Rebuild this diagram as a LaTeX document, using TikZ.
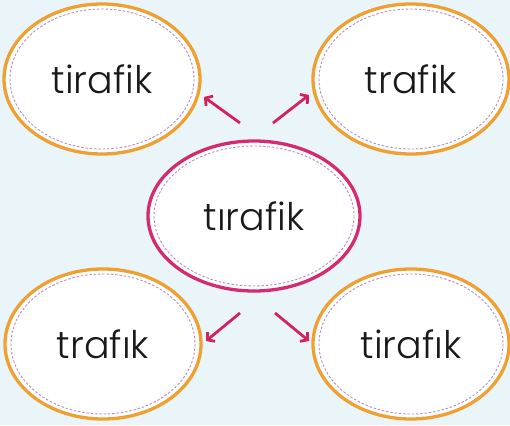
\documentclass[tikz,border=0pt]{standalone}
\usepackage{fontspec}
\setmainfont[Ligatures=NoCommon]{Poppins Light}
\usetikzlibrary{shapes.geometric,arrows.meta}
\definecolor{bgblue}{HTML}{EAF5FA}
\definecolor{orangering}{HTML}{EFA032}
\definecolor{pinkring}{HTML}{D42A72}
\definecolor{arrowred}{HTML}{D3215E}
\definecolor{dashlilac}{HTML}{B98CC4}
\tikzset{
  bubble/.style={ellipse, draw=orangering, line width=3.3pt, fill=white,
    minimum width=196pt, minimum height=150pt, inner sep=0pt,
    font=\fontsize{38}{42}\selectfont, text=black!90},
  centerbubble/.style={bubble, draw=pinkring, minimum width=212pt, minimum height=150pt},
  stitch/.style={draw=dashlilac, line width=0.9pt, dash pattern=on 2.5pt off 1.8pt},
  pointer/.style={draw=arrowred, line width=2.8pt, -{Straight Barb[length=5pt,width=12pt]}}
}
\begin{document}
\begin{tikzpicture}[x=1pt,y=-1pt]
\fill[bgblue] (0,0) rectangle (510,425);
\useasboundingbox (0,0) rectangle (510,425);
\node[bubble] (tl) at (102,79) {tirafik};
\node[bubble] (tr) at (411,79) {trafik};
\node[centerbubble] (c) at (254,216) {tırafik};
\node[bubble] (bl) at (103,344) {trafık};
\node[bubble] (br) at (411,344) {tirafık};
\foreach \n/\rx/\ry in {tl/92/70,tr/92/70,c/100/70,bl/92/70,br/92/70}
  \draw[stitch] (\n.center) ellipse[x radius=\rx, y radius=\ry];
\coordinate (a1) at (240,123); \coordinate (a1t) at (204,97);
\coordinate (a2) at (273,123); \coordinate (a2t) at (309,95);
\coordinate (a3) at (240,313); \coordinate (a3t) at (206,341);
\coordinate (a4) at (275,313); \coordinate (a4t) at (309,341);
\draw[pointer] (a1) -- (a1t);
\draw[pointer] (a2) -- (a2t);
\draw[pointer] (a3) -- (a3t);
\draw[pointer] (a4) -- (a4t);
\end{tikzpicture}
\end{document}
